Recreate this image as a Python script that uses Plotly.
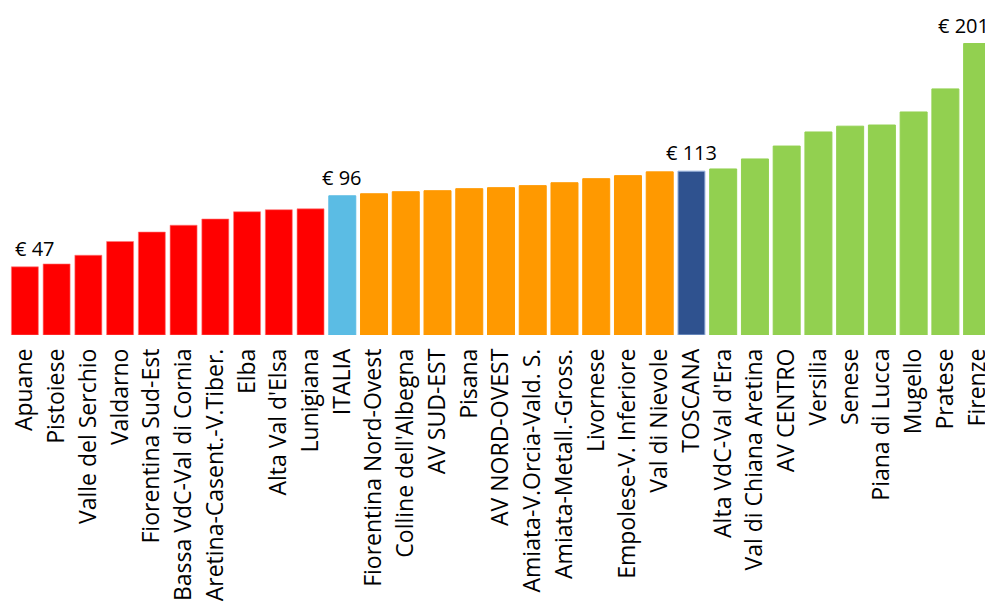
import plotly.graph_objects as go

categories = [
    "Apuane", "Pistoiese", "Valle del Serchio", "Valdarno", "Fiorentina Sud-Est",
    "Bassa VdC-Val di Cornia", "Aretina-Casent.-V.Tiber.", "Elba", "Alta Val d'Elsa",
    "Lunigiana", "ITALIA", "Fiorentina Nord-Ovest", "Colline dell'Albegna", "AV SUD-EST",
    "Pisana", "AV NORD-OVEST", "Amiata-V.Orcia-Vald. S.", "Amiata-Metall.-Gross.",
    "Livornese", "Empolese-V. Inferiore", "Val di Nievole", "TOSCANA",
    "Alta VdC-Val d'Era", "Val di Chiana Aretina", "AV CENTRO", "Versilia", "Senese",
    "Piana di Lucca", "Mugello", "Pratese", "Firenze",
]
values = [
    47, 49, 55, 64.5, 71, 75.7, 80, 85, 86.4, 87,
    96, 97.4, 98.8, 99.5, 100.9, 101.6, 103, 105, 107.8, 109.9, 112.5,
    113, 114.5, 121.4, 130.3, 140, 144, 144.8, 153.8, 169.7, 201,
]
labelled = ["Apuane", "ITALIA", "TOSCANA", "Firenze"]

RED, LIGHTBLUE, ORANGE, DARKBLUE, GREEN = "#FF0000", "#5BBCE4", "#FF9900", "#2F528F", "#92D050"
i_it = categories.index("ITALIA")
i_to = categories.index("TOSCANA")
colors = []
line_colors = []
for i, c in enumerate(categories):
    if i < i_it:
        colors.append(RED); line_colors.append("rgba(255,120,120,0.6)")
    elif i == i_it:
        colors.append(LIGHTBLUE); line_colors.append(LIGHTBLUE)
    elif i < i_to:
        colors.append(ORANGE); line_colors.append(ORANGE)
    elif i == i_to:
        colors.append(DARKBLUE); line_colors.append("#9DB8E0")
    else:
        colors.append(GREEN); line_colors.append(GREEN)

fig = go.Figure(go.Bar(
    x=categories, y=values,
    marker=dict(color=colors, line=dict(color=line_colors, width=1)),
    hoverinfo="x+y",
))

anchors = {"Apuane": ("center", 10), "ITALIA": ("center", 0),
           "TOSCANA": ("center", 0), "Firenze": ("right", 14)}
for c in labelled:
    v = values[categories.index(c)]
    xa, xs = anchors[c]
    fig.add_annotation(
        x=c, y=v, xref="x", yref="y",
        text=f"€ {round(v)}", showarrow=False,
        yanchor="bottom", yshift=3, xanchor=xa, xshift=xs,
        font=dict(family="Open Sans", size=20, color="#000000"),
    )

fig.update_layout(
    width=985, height=600,
    margin=dict(l=1, r=0, t=0, b=273),
    paper_bgcolor="white", plot_bgcolor="white",
    bargap=0.15, showlegend=False,
    font=dict(family="Open Sans", color="#000000"),
)
fig.update_xaxes(
    tickangle=-90, tickfont=dict(family="Open Sans", size=23, color="#000000"),
    showgrid=False, showline=False, zeroline=False, ticks="", ticklabelstandoff=8,
)
fig.update_yaxes(range=[0, 225.5], visible=False, showgrid=False, zeroline=False)

fig.write_html("out.html")
